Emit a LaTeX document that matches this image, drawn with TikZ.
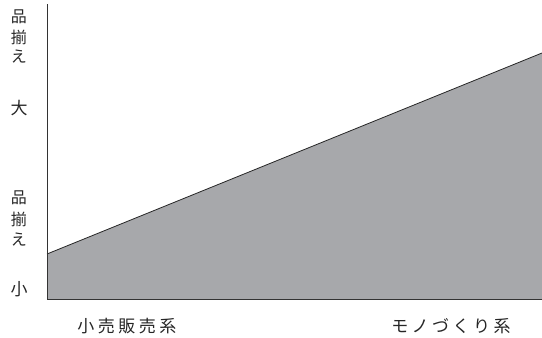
\documentclass[tikz,border=0pt]{standalone}
\usepackage{fontspec}
\newfontfamily\jp{Noto Sans CJK JP}[Scale=1]
\begin{document}
\begin{tikzpicture}[x=1pt,y=-1pt,
  lab/.style={font=\jp\fontsize{16}{16}\selectfont, inner sep=0pt, text=black!85},
  axis/.style={line width=1pt, draw=black!80}]
\useasboundingbox (0,0) rectangle (542,338);
\coordinate (o) at (47,299);
\coordinate (top) at (47,4);
\coordinate (r) at (542,299);
\coordinate (a) at (47,254);
\coordinate (b) at (542,53);
\fill[fill={rgb,255:red,167;green,168;blue,171}] (a) -- (b) -- (r) -- (o) -- cycle;
\draw[line width=0.8pt, draw=black!85] (a) -- (b);
\draw[axis] (top) -- (o) -- (r);
\node[lab] (h1) at (19,17) {品};
\node[lab] (h2) at (19,37) {揃};
\node[lab] (h3) at (19,57) {え};
\node[lab, font=\jp\fontsize{17}{17}\selectfont] (big) at (19,108) {大};
\node[lab] (l1) at (19,198) {品};
\node[lab] (l2) at (19,219) {揃};
\node[lab] (l3) at (19,240) {え};
\node[lab, font=\jp\fontsize{17}{17}\selectfont] (small) at (19,289) {小};
\node[lab, font=\jp\fontsize{17}{17}\selectfont] (retail) at (127,326) {小\kern3.5pt 売\kern3.5pt 販\kern3.5pt 売\kern3.5pt 系};
\node[lab, font=\jp\fontsize{17}{17}\selectfont] (mfg) at (451,326) {モ\kern3.5pt ノ\kern3.5pt づ\kern3.5pt く\kern3.5pt り\kern3.5pt 系};
\end{tikzpicture}
\end{document}
